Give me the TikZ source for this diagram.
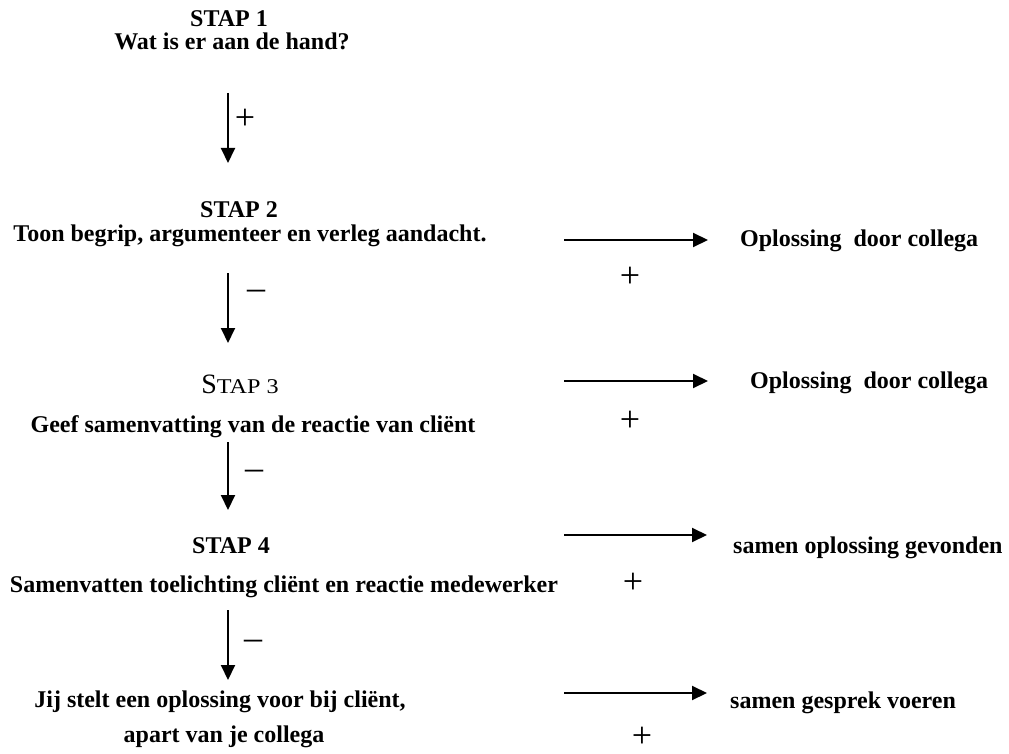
\documentclass[tikz,border=0pt]{standalone}
\usepackage{fontspec}
\usepackage{graphicx}
\setmainfont{Liberation Serif}
\usetikzlibrary{arrows.meta}
\begin{document}
\begin{tikzpicture}[x=1pt,y=-1pt,
  lbl/.style={inner sep=0pt, anchor=base, font=\fontsize{24}{28}\selectfont\bfseries},
  lbll/.style={lbl, anchor=base west},
  sign/.style={inner sep=0pt, font=\fontsize{36}{38}\selectfont},
  minussign/.style={sign, anchor=base},
  flow/.style={line width=2pt, -{Triangle[length=15pt,width=14pt]}}]
\useasboundingbox (0,0) rectangle (1009,754);
% step 1
\node[lbl] (s1a) at (229,27) {STAP 1};
\node[lbl] (s1b) at (232,50) {Wat is er aan de hand?};
\coordinate (a1s) at (228,93);
\coordinate (a1e) at (228,163);
\draw[flow] (a1s) -- (a1e);
\node[sign] (p1) at (245,119) {+};
% step 2
\node[lbl] (s2a) at (239,218) {STAP 2};
\node[lbl] (s2b) at (250,241) {Toon begrip, argumenteer en verleg aandacht.};
\coordinate (a2s) at (228,273);
\coordinate (a2e) at (228,343);
\draw[flow] (a2s) -- (a2e);
\node[minussign] (m2) at (256,299) {–};
\coordinate (h2s) at (564,240);
\coordinate (h2e) at (708,240);
\draw[flow] (h2s) -- (h2e);
\node[lbll] (r2) at (740,247) {Oplossing\ \ door collega};
\node[sign] (p2) at (630,277) {+};
% step 3
\node[inner sep=0pt, anchor=base] (s3a) at (240,393) {\fontsize{28}{30}\selectfont S\fontsize{21}{24}\selectfont\scalebox{1.15}[1]{TAP 3}};
\node[lbl] (s3b) at (253,432) {Geef samenvatting van de reactie van cliënt};
\coordinate (a3s) at (228,442);
\coordinate (a3e) at (228,510);
\draw[flow] (a3s) -- (a3e);
\node[minussign] (m3) at (254,479) {–};
\coordinate (h3s) at (564,381);
\coordinate (h3e) at (708,381);
\draw[flow] (h3s) -- (h3e);
\node[lbll] (r3) at (750,388) {Oplossing\ \ door collega};
\node[sign] (p3) at (630,421) {+};
% step 4
\node[lbl] (s4a) at (231,553) {STAP 4};
\node[lbl] (s4b) at (284,592) {Samenvatten toelichting cliënt en reactie medewerker};
\coordinate (a4s) at (228,610);
\coordinate (a4e) at (228,680);
\draw[flow] (a4s) -- (a4e);
\node[minussign] (m4) at (253,649) {–};
\coordinate (h4s) at (564,535);
\coordinate (h4e) at (707,535);
\draw[flow] (h4s) -- (h4e);
\node[lbll] (r4) at (733,553) {samen oplossing gevonden};
\node[sign] (p4) at (633,583) {+};
% step 5
\node[lbl] (s5a) at (220,707) {Jij stelt een oplossing voor bij cliënt,};
\node[lbl] (s5b) at (224,742) {apart van je collega};
\coordinate (h5s) at (564,693);
\coordinate (h5e) at (707,693);
\draw[flow] (h5s) -- (h5e);
\node[lbll] (r5) at (730,708) {samen gesprek voeren};
\node[sign] (p5) at (642,737) {+};
\end{tikzpicture}
\end{document}
